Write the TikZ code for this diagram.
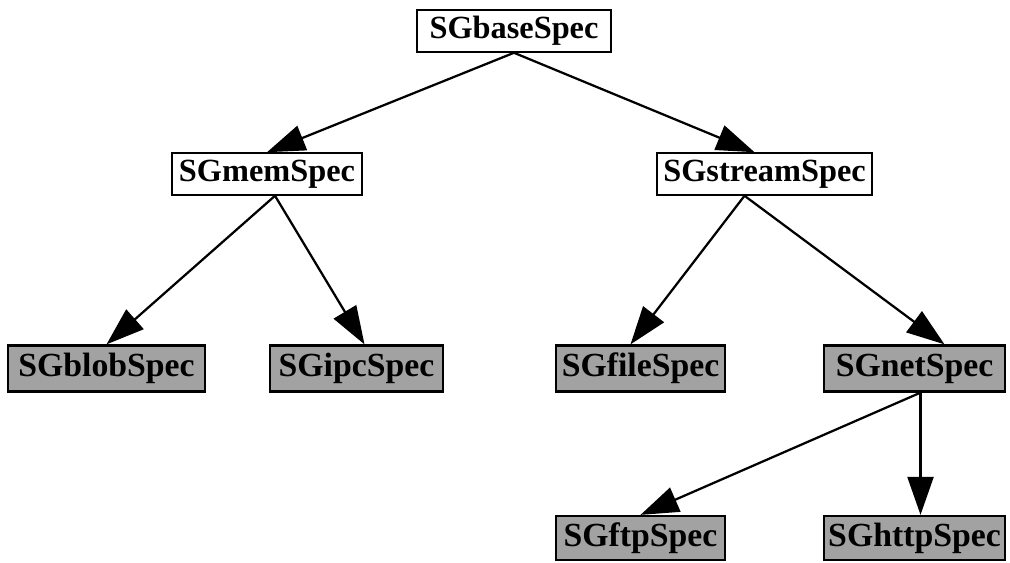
\documentclass[tikz,border=0pt]{standalone}
\usepackage{fontspec}
\setmainfont{Liberation Serif}
\usetikzlibrary{arrows.meta}
\definecolor{cShade}{HTML}{A2A2A2}
\tikzset{
  cls/.style={draw=black, line width=1.1pt, fill=white, inner sep=0pt,
    minimum height=1.05cm, font=\bfseries\fontsize{23}{27}\selectfont},
  leaf/.style={cls, fill=cShade, line width=1.6pt, minimum height=1.15cm,
    font=\bfseries\fontsize{24}{28}\selectfont},
  inh/.style={line width=1.6pt, -{Triangle[length=0.95cm, width=0.65cm]}},
}
\begin{document}
\begin{tikzpicture}[x=0.025cm, y=-0.025cm]
\useasboundingbox (0,0) rectangle (1010,563);
% classes
\node[cls, minimum width=4.85cm] (base) at (514,31) {SGbaseSpec};
\node[cls, minimum width=4.75cm] (mem) at (267,174) {SGmemSpec};
\node[cls, minimum width=5.375cm] (stream) at (764.5,174) {SGstreamSpec};
\node[leaf, minimum width=4.925cm] (blob) at (106.5,368.5) {SGblobSpec};
\node[leaf, minimum width=4.325cm] (ipc) at (356.5,368.5) {SGipcSpec};
\node[leaf, minimum width=4.225cm] (file) at (640.5,368.5) {SGfileSpec};
\node[leaf, minimum width=4.525cm] (net) at (914.5,368.5) {SGnetSpec};
\node[leaf, minimum width=4.225cm, minimum height=1.1cm] (ftp) at (640.5,538) {SGftpSpec};
\node[leaf, minimum width=4.525cm, minimum height=1.1cm] (http) at (914.5,538) {SGhttpSpec};
% inheritance
\draw[inh] (base.south) -- (mem.north);
\draw[inh] (base.south) -- ([xshift=-0.25cm]stream.north);
\draw[inh] ([xshift=0.2cm]mem.south) -- (blob.north);
\draw[inh] ([xshift=0.2cm]mem.south) -- ([xshift=0.2cm]ipc.north);
\draw[inh] ([xshift=-0.5cm]stream.south) -- ([xshift=-0.25cm]file.north);
\draw[inh] ([xshift=-0.5cm]stream.south) -- ([xshift=0.75cm]net.north);
\draw[inh] ([xshift=0.15cm]net.south) -- (ftp.north);
\draw[inh] ([xshift=0.15cm]net.south) -- ([xshift=0.15cm]http.north);
\end{tikzpicture}
\end{document}
